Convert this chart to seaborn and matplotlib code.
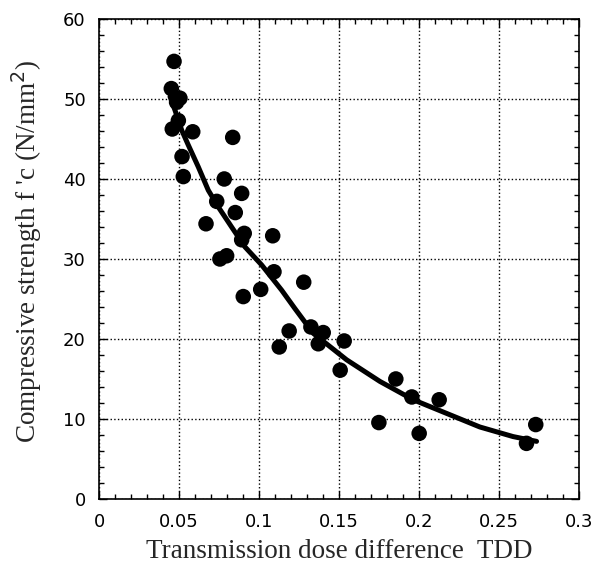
import numpy as np
import seaborn as sns
import matplotlib.pyplot as plt
from matplotlib.ticker import MultipleLocator

# titik pengukuran
tdd = [0.0469, 0.0452, 0.0506, 0.0485, 0.0496, 0.0458, 0.0586, 0.0836, 0.0519,
       0.0527, 0.0783, 0.0892, 0.0736, 0.0852, 0.0669, 0.0908, 0.0892, 0.1086,
       0.0756, 0.0798, 0.1094, 0.1011, 0.0902, 0.1189, 0.1127, 0.1280, 0.1325,
       0.1402, 0.1371, 0.1533, 0.1508, 0.1856, 0.1956, 0.2127, 0.1750, 0.2002,
       0.2673, 0.2731]
fc = [54.7, 51.3, 50.1, 49.6, 47.3, 46.25, 45.9, 45.2, 42.8,
      40.3, 40.0, 38.2, 37.2, 35.8, 34.4, 33.2, 32.4, 32.9,
      30.0, 30.4, 28.4, 26.2, 25.3, 21.0, 19.0, 27.1, 21.5,
      20.8, 19.4, 19.75, 16.1, 15.0, 12.75, 12.4, 9.55, 8.2,
      6.95, 9.3]

# kurva regresi
kurva_x = [0.0444, 0.0475, 0.0517, 0.0558, 0.0621, 0.0683, 0.0746, 0.0829,
           0.0913, 0.1017, 0.1142, 0.1225, 0.1340, 0.1548, 0.1756, 0.1965,
           0.2173, 0.2381, 0.2589, 0.2736]
kurva_y = [50.3, 48.6, 46.1, 44.25, 41.5, 38.6, 36.5, 34.0,
           31.5, 29.25, 26.1, 23.8, 20.7, 17.4, 14.7, 12.4,
           10.7, 9.0, 7.8, 7.2]

sns.set_style("ticks")

fig = plt.figure(figsize=(5.93, 5.67), dpi=100)
ax = fig.add_axes([0.167, 0.12, 0.809, 0.8465])

sns.lineplot(x=kurva_x, y=kurva_y, color='black', lw=3.6, ax=ax, zorder=2)
sns.scatterplot(x=tdd, y=fc, color='black', s=125, edgecolor='none', ax=ax, zorder=3)

ax.set_xlim(0, 0.3)
ax.set_ylim(0, 60)
ax.xaxis.set_major_locator(MultipleLocator(0.05))
ax.xaxis.set_minor_locator(MultipleLocator(0.01))
ax.yaxis.set_major_locator(MultipleLocator(10))
ax.yaxis.set_minor_locator(MultipleLocator(2))
ax.set_xticks(np.arange(0, 0.31, 0.05))
ax.set_xticklabels(['0', '0.05', '0.1', '0.15', '0.2', '0.25', '0.3'])

ax.tick_params(which='both', direction='in', top=True, right=True,
               colors='black', labelsize=13, width=1)
ax.tick_params(which='major', length=6)
ax.tick_params(which='minor', length=3.5)
ax.tick_params(axis='x', which='major', pad=10)
ax.tick_params(axis='y', which='major', pad=9.5)
ax.grid(True, which='major', linestyle=':', color='black', lw=1)
for s in ax.spines.values():
    s.set_color('black')
    s.set_linewidth(1.2)

ax.set_xlabel("Transmission dose difference  TDD", family='Liberation Serif',
              fontsize=19.5, labelpad=6)
ax.set_ylabel("Compressive strength f 'c (N/mm$^2$)", family='Liberation Serif',
              fontsize=19.5)
ax.yaxis.set_label_coords(-0.115, 0.515)

plt.savefig("out.png", dpi=100)
